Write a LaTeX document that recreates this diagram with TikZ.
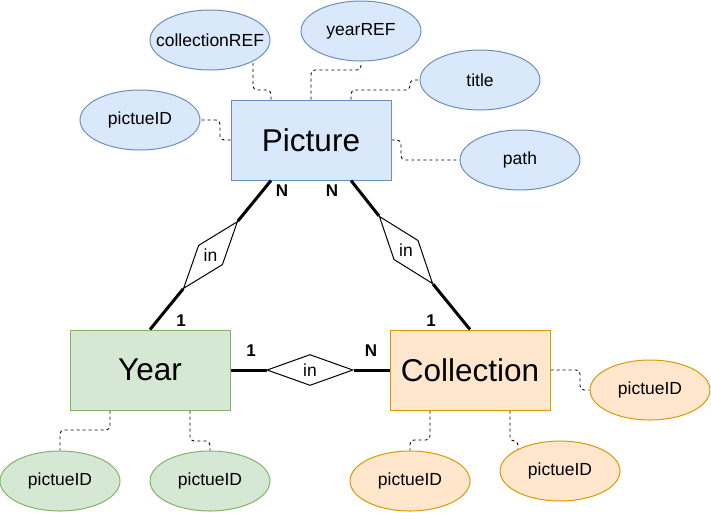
\documentclass[tikz,border=0pt]{standalone}
\usepackage{fontspec}
\setmainfont{Liberation Sans}
\usetikzlibrary{shapes.geometric,backgrounds}
\definecolor{picfill}{HTML}{DAE8FC}
\definecolor{picline}{HTML}{6C8EBF}
\definecolor{yearfill}{HTML}{D5E8D4}
\definecolor{yearline}{HTML}{82B366}
\definecolor{colfill}{HTML}{FFE6CC}
\definecolor{colline}{HTML}{D79B00}
\newcommand{\attrtext}[1]{\makebox[0pt]{#1}}
\begin{document}
\begin{tikzpicture}[x=1pt, y=-1pt,
		entity/.style={draw, line width=1pt, minimum width=160pt, minimum height=80pt, font=\fontsize{31.5}{36}\selectfont},
		attr/.style={ellipse, draw, line width=1pt, minimum width=120pt, minimum height=60pt, inner sep=0pt, font=\fontsize{17.5}{20}\selectfont},
		reldia/.style={diamond, draw, line width=1pt, fill=white, minimum width=86pt, minimum height=31pt, inner sep=0pt},
		reltext/.style={inner sep=0pt, font=\fontsize{17.5}{20}\selectfont},
		card/.style={inner sep=0pt, font=\fontsize{17}{20}\selectfont\bfseries},
		rel/.style={line width=3pt},
		attrline/.style={dashed, line width=0.9pt, rounded corners=4pt}]
			\useasboundingbox (0, 0) rectangle (711, 512);

			\node[entity, draw=picline, fill=picfill] at (311, 140) (picture) {Picture};
			\node[entity, draw=yearline, fill=yearfill] at (150, 370) (year) {Year};
			\node[entity, draw=colline, fill=colfill] at (470, 370) (collection) {Collection};

			\node[attr, draw=picline, fill=picfill] at (140, 120) (picID) {\attrtext{pictueID}};
			\node[attr, draw=picline, fill=picfill] at (210, 40) (colREF) {\attrtext{collectionREF}};
			\node[attr, draw=picline, fill=picfill] at (361, 31) (yearREF) {\attrtext{yearREF}};
			\node[attr, draw=picline, fill=picfill] at (480, 80) (title) {\attrtext{title}};
			\node[attr, draw=picline, fill=picfill] at (520, 160) (picpath) {\attrtext{path}};

			\node[attr, draw=yearline, fill=yearfill] at (60, 481) (yearID1) {\attrtext{pictueID}};
			\node[attr, draw=yearline, fill=yearfill] at (210, 481) (yearID2) {\attrtext{pictueID}};

			\node[attr, draw=colline, fill=colfill] at (410, 481) (colID1) {\attrtext{pictueID}};
			\node[attr, draw=colline, fill=colfill] at (560, 471) (colID2) {\attrtext{pictueID}};
			\node[attr, draw=colline, fill=colfill] at (650, 390) (colID3) {\attrtext{pictueID}};

			\node[reldia, rotate=231.1] at (210.5, 255) (inYear) {};
			\node[reltext] at (inYear) (inYearText) {in};
			\node[reldia, rotate=308.4] at (406, 250) (inCol) {};
			\node[reltext] at (inCol) (inColText) {in};
			\node[reldia] at (310, 370) (inYC) {};
			\node[reltext] at (inYC) (inYCText) {in};

			\node[card] at (282, 191) (nPicYear) {N};
			\node[card] at (332, 191) (nPicCol) {N};
			\node[card] at (181, 321) (oneYearPic) {1};
			\node[card] at (431, 321) (oneColPic) {1};
			\node[card] at (251, 351) (oneYearCol) {1};
			\node[card] at (371, 351) (nYearCol) {N};

			\path
			([xshift=-40pt]picture.south) edge[rel] (inYear.west)
			(inYear.east) edge[rel] (year.north)
			([xshift=40pt]picture.south) edge[rel] (inCol.west)
			(inCol.east) edge[rel] (collection.north)
			(year.east) edge[rel] (inYC.west)
			(inYC.east) edge[rel] (collection.west);

			\begin{scope}[on background layer]
			\draw[attrline] (picture.west) -| (220, 120) -- (picID);
			\draw[attrline] ([xshift=-40pt]picture.north) |- (253, 90) -- (253, 40 |- colREF);
			\draw[attrline] (picture.north) |- (361, 70) -- (yearREF);
			\draw[attrline] ([xshift=40pt]picture.north) |- (410, 90) |- (title);
			\draw[attrline] (picture.east) -| (401, 160) -- (picpath);
			\draw[attrline] ([xshift=-40pt]year.south) |- (60, 430) -- (yearID1);
			\draw[attrline] ([xshift=40pt]year.south) |- (210, 441) -- (yearID2);
			\draw[attrline] ([xshift=-40pt]collection.south) |- (410, 440) -- (colID1);
			\draw[attrline] ([xshift=40pt]collection.south) |- (518, 441) -- (518, 471 |- colID2);
			\draw[attrline] (collection.east) -| (580, 390) -- (colID3);
			\end{scope}
		\end{tikzpicture}
\end{document}
